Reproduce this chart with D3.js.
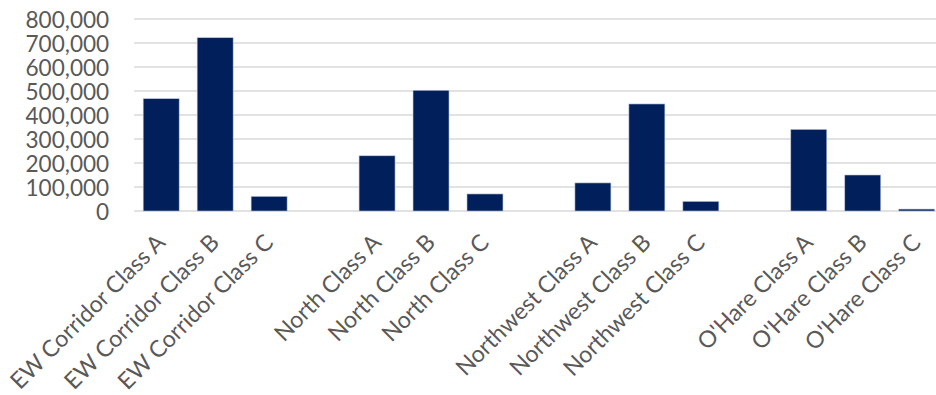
<!DOCTYPE html>
<html>
<head>
<meta charset="utf-8">
<script src="https://cdn.jsdelivr.net/npm/d3@7"></script>
<style>
  html, body { margin: 0; padding: 0; background: #ffffff; }
  svg { display: block; }
</style>
</head>
<body>
<svg id="chart" width="936" height="395"></svg>
<script>
// Office space by submarket and building class
const groups = ["EW Corridor", "North", "Northwest", "O'Hare"];
const classes = ["Class A", "Class B", "Class C"];
const classA = [468000, 230000, 117000, 340000];
const classB = [722000, 503000, 446000, 150000];
const classC = [61000, 71000, 40000, 8000];
const yTicks = [0, 100000, 200000, 300000, 400000, 500000, 600000, 700000, 800000];

const seriesByClass = [classA, classB, classC];

// One slot per bar, with an empty slot between submarkets
const slots = [];
groups.forEach((g, gi) => {
  classes.forEach((c, ci) => {
    slots.push({ id: `${gi}-${ci}`, label: `${g} ${c}`, value: seriesByClass[ci][gi] });
  });
  if (gi < groups.length - 1) slots.push({ id: `gap-${gi}`, label: "", value: null });
});

const svg = d3.select("#chart");
const plotLeft = 134.2, plotRight = 943.7;
const yZero = 211, yTop = 19;

const x = d3.scaleBand()
  .domain(slots.map(d => d.id))
  .range([plotLeft, plotRight])
  .paddingInner(1 / 3)
  .paddingOuter(1 / 6);

const y = d3.scaleLinear().domain([0, 800000]).range([yZero, yTop]);

// Horizontal gridlines
svg.append("g")
  .selectAll("line")
  .data(yTicks)
  .join("line")
  .attr("x1", plotLeft)
  .attr("x2", 936)
  .attr("y1", d => y(d))
  .attr("y2", d => y(d))
  .attr("stroke", "#d9d9d9")
  .attr("stroke-width", 1.5);

// Y axis labels
const yAxis = d3.axisLeft(y)
  .tickValues(yTicks)
  .tickFormat(d3.format(","))
  .tickSize(0)
  .tickPadding(25);

const yg = svg.append("g")
  .attr("transform", `translate(${plotLeft},0)`)
  .call(yAxis);
yg.select(".domain").remove();
yg.selectAll("text")
  .attr("fill", "#595959")
  .attr("font-family", "Lato, 'Open Sans', sans-serif")
  .attr("font-size", 22.6)
  .attr("dy", "0.36em");

// Bars
svg.append("g")
  .selectAll("rect")
  .data(slots.filter(d => d.value !== null))
  .join("rect")
  .attr("x", d => x(d.id))
  .attr("width", x.bandwidth())
  .attr("y", d => y(d.value))
  .attr("height", d => y(0) - y(d.value))
  .attr("fill", "#001f5b")
  .attr("stroke", "#b8c3da")
  .attr("stroke-width", 0.6);

// Rotated category labels
svg.append("g")
  .selectAll("text")
  .data(slots.filter(d => d.label !== ""))
  .join("text")
  .attr("transform", d => `translate(${x(d.id) + x.bandwidth() / 2 + 5.5},${yZero + 33}) rotate(-45)`)
  .attr("text-anchor", "end")
  .attr("fill", "#595959")
  .attr("font-family", "Lato, 'Open Sans', sans-serif")
  .attr("font-size", 23.2)
  .text(d => d.label);
</script>
</body>
</html>
